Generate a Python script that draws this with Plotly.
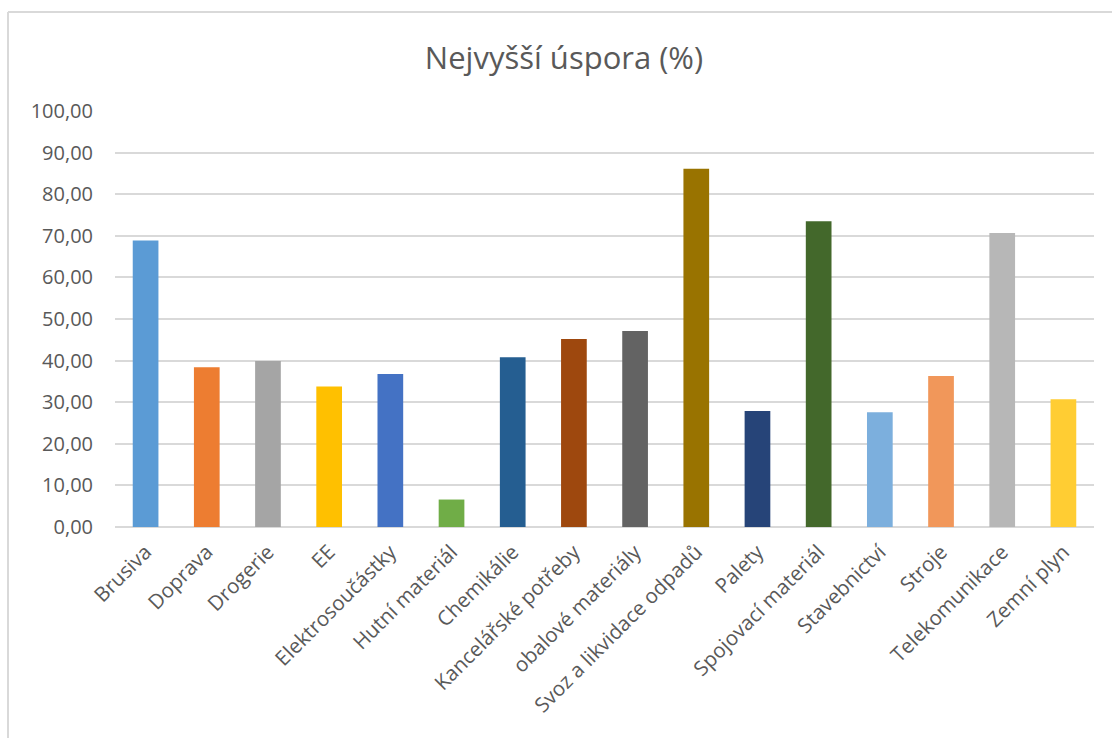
import plotly.graph_objects as go

# Kategorie a nejvyšší dosažená úspora v procentech
categories = [
    "Brusiva", "Doprava", "Drogerie", "EE", "Elektrosoučástky",
    "Hutní materiál", "Chemikálie", "Kancelářské potřeby",
    "obalové materiály", "Svoz a likvidace odpadů", "Palety",
    "Spojovací materiál", "Stavebnictví", "Stroje",
    "Telekomunikace", "Zemní plyn",
]
savings = [68.9, 38.4, 39.9, 33.8, 36.8, 6.6, 40.8, 45.2,
           47.1, 86.1, 27.9, 73.5, 27.6, 36.3, 70.7, 30.7]
bar_colors = [
    "#5B9BD5", "#ED7D31", "#A5A5A5", "#FFC000", "#4472C4",
    "#70AD47", "#255E91", "#9E480E", "#636363", "#997300",
    "#264478", "#43682B", "#7CAFDD", "#F1975A", "#B7B7B7",
    "#FFCD33",
]
y_ticks = [0, 10, 20, 30, 40, 50, 60, 70, 80, 90, 100]

W, H = 1112, 738
L, R, T, B = 115, 18, 111, 211
pw, ph = W - L - R, H - T - B

fig = go.Figure(
    go.Bar(
        x=categories,
        y=savings,
        marker=dict(color=bar_colors, line=dict(width=0)),
        hovertemplate="%{x}: %{y:.2f}<extra></extra>",
    )
)

text_color = "#595959"
grid_color = "#D9D9D9"
font_family = "Open Sans, Noto Sans, DejaVu Sans, sans-serif"

fig.update_layout(
    width=W,
    height=H,
    margin=dict(l=L, r=R, t=T, b=B, autoexpand=False),
    paper_bgcolor="white",
    plot_bgcolor="white",
    separators=", ",
    bargap=0.58,
    showlegend=False,
    font=dict(family=font_family, color=text_color),
    title=dict(
        text="Nejvyšší úspora (%)",
        x=564 / W,
        xanchor="center",
        y=1 - 58 / H,
        yanchor="middle",
        font=dict(size=31, color=text_color, family=font_family),
    ),
    xaxis=dict(
        tickangle=-45,
        tickfont=dict(size=20.5, color=text_color),
        showgrid=False,
        showline=False,
        ticks="",
        ticklen=0,
        ticklabelstandoff=8,
    ),
    yaxis=dict(
        range=[0, 100],
        tickvals=y_ticks,
        tickformat=".2f",
        tickfont=dict(size=20, color=text_color),
        showgrid=True,
        gridcolor=grid_color,
        gridwidth=1.5,
        zeroline=True,
        zerolinecolor=grid_color,
        zerolinewidth=1.5,
        showline=False,
        ticks="",
        ticklabelstandoff=21,
    ),
    shapes=[
        # rám grafu (levá a horní hrana)
        dict(type="line", xref="paper", yref="paper",
             x0=(8 - L) / pw, x1=(8 - L) / pw,
             y0=(H - B - H) / ph, y1=(H - B - 12) / ph,
             line=dict(color=grid_color, width=2)),
        dict(type="line", xref="paper", yref="paper",
             x0=(8 - L) / pw, x1=(W - L) / pw,
             y0=(H - B - 12) / ph, y1=(H - B - 12) / ph,
             line=dict(color=grid_color, width=2)),
    ],
)

fig.write_html("out.html")
